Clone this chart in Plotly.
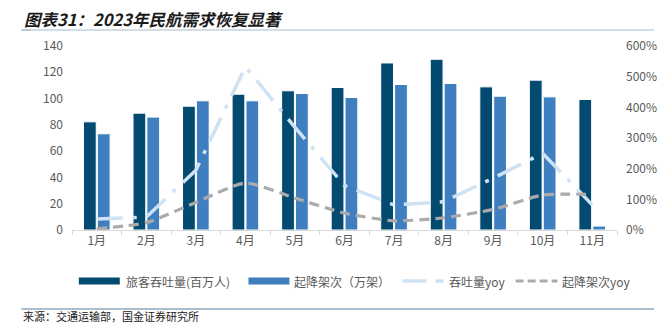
import plotly.graph_objects as go

# 2023 monthly civil aviation data
months = ["1月", "2月", "3月", "4月", "5月", "6月", "7月", "8月", "9月", "10月", "11月"]
passengers = [82.3, 88.9, 94.2, 103.3, 105.9, 108.4, 127.1, 129.9, 108.9, 114.0, 99.3]   # 百万人
flights = [73.2, 85.9, 98.3, 98.3, 103.9, 100.8, 110.7, 111.5, 101.8, 101.3, 3.0]          # 万架
passenger_yoy = [0.36, 0.42, 1.95, 5.32, 3.35, 1.45, 0.82, 0.92, 1.69, 2.50, 0.82]
flights_yoy = [0.04, 0.24, 0.90, 1.53, 1.04, 0.55, 0.30, 0.40, 0.67, 1.14, 1.16]

left_ticks = [0, 20, 40, 60, 80, 100, 120, 140]
right_ticks = [0, 1, 2, 3, 4, 5, 6]

DARK = "#024a70"
LIGHT = "#3f7fc0"
PALE = "#cfe2f3"
GREY = "#ababab"
TXT = "#595959"

fig = go.Figure()
fig.add_trace(go.Bar(x=months, y=passengers, name="旅客吞吐量(百万人)",
                     marker=dict(color=DARK, line=dict(color="white", width=1)),
                     showlegend=False))
fig.add_trace(go.Bar(x=months, y=flights, name="起降架次（万架）",
                     marker=dict(color=LIGHT, line=dict(color="white", width=1)),
                     showlegend=False))
fig.add_trace(go.Scatter(x=months, y=passenger_yoy, name="吞吐量yoy", yaxis="y2",
                         mode="lines", line=dict(color=PALE, width=3.5, dash="26px,10px,4px,10px"),
                         showlegend=False))
fig.add_trace(go.Scatter(x=months, y=flights_yoy, name="起降架次yoy", yaxis="y2",
                         mode="lines", line=dict(color=GREY, width=3.2, dash="10px,6px",
                                                 shape="spline", smoothing=0.6),
                         showlegend=False))

W, H = 669, 324
L, R, T, B = 72, 38, 46, 94
PW, PH = W - L - R, H - T - B

fig.update_layout(
    width=W, height=H,
    margin=dict(l=L, r=R, t=T, b=B),
    paper_bgcolor="white", plot_bgcolor="white",
    barmode="group", bargap=0.44, bargroupgap=0.08,
    font=dict(family="Noto Sans CJK SC, Noto Sans, sans-serif", size=12, color=TXT),
    xaxis=dict(type="category", showgrid=False, showline=True, linecolor="#d9d9d9",
               linewidth=1, ticks="outside", tickson="boundaries", ticklen=4,
               tickcolor="#d9d9d9", tickfont=dict(size=12, color=TXT)),
    yaxis=dict(range=[0, 140], tickvals=left_ticks, showgrid=False, zeroline=False,
               showline=False, ticklabelstandoff=8, tickfont=dict(size=12, color=TXT)),
    yaxis2=dict(range=[0, 6], tickvals=right_ticks, tickformat=".0%", overlaying="y",
                side="right", showgrid=False, zeroline=False, showline=False,
                ticklabelstandoff=8, tickfont=dict(size=12, color=TXT)),
    showlegend=False,
)

# convert page pixels to paper coordinates (paper spans the plot area)
def px_x(v):
    return (v - L) / PW

def px_y(v):
    return (H - B - v) / PH

shapes = []
annotations = []

# title rule and source rule
shapes.append(dict(type="line", xref="paper", yref="paper", x0=px_x(20), x1=px_x(W),
                   y0=px_y(30), y1=px_y(30), line=dict(color="#d3dde5", width=2)))
shapes.append(dict(type="line", xref="paper", yref="paper", x0=px_x(20), x1=px_x(30),
                   y0=px_y(30), y1=px_y(30), line=dict(color="#b9c9d6", width=2)))
shapes.append(dict(type="line", xref="paper", yref="paper", x0=px_x(20), x1=px_x(W),
                   y0=px_y(309), y1=px_y(309), line=dict(color="#8ea9bc", width=1.5)))

annotations.append(dict(text="<b><i>图表31：2023年民航需求恢复显著</i></b>", xref="paper", yref="paper",
                        x=px_x(21), y=px_y(19), xanchor="left", yanchor="middle", showarrow=False,
                        font=dict(size=16.5, color="#1a1a1a")))
annotations.append(dict(text="来源：交通运输部，国金证券研究所", xref="paper", yref="paper",
                        x=px_x(20), y=px_y(315.5), xanchor="left", yanchor="middle", showarrow=False,
                        font=dict(size=11, color="#222222")))

# legend row
LY = px_y(281)
legend_items = [
    (79, 121, dict(color=DARK, width=7), "旅客吞吐量(百万人)", 125),
    (253, 295, dict(color=LIGHT, width=7), "起降架次（万架）", 298),
    (411, 453, dict(color=PALE, width=3.5, dash="24px,9px,8px"), "吞吐量yoy", 457),
    (527, 570, dict(color=GREY, width=3.2, dash="8px,4px"), "起降架次yoy", 573),
]
for x0, x1, ln, label, tx in legend_items:
    shapes.append(dict(type="line", xref="paper", yref="paper", x0=px_x(x0), x1=px_x(x1),
                       y0=LY, y1=LY, line=ln))
    annotations.append(dict(text=label, xref="paper", yref="paper", x=px_x(tx), y=LY,
                            xanchor="left", yanchor="middle", showarrow=False,
                            font=dict(size=12, color=TXT)))

fig.update_layout(shapes=shapes, annotations=annotations)
fig.write_html("out.html")
